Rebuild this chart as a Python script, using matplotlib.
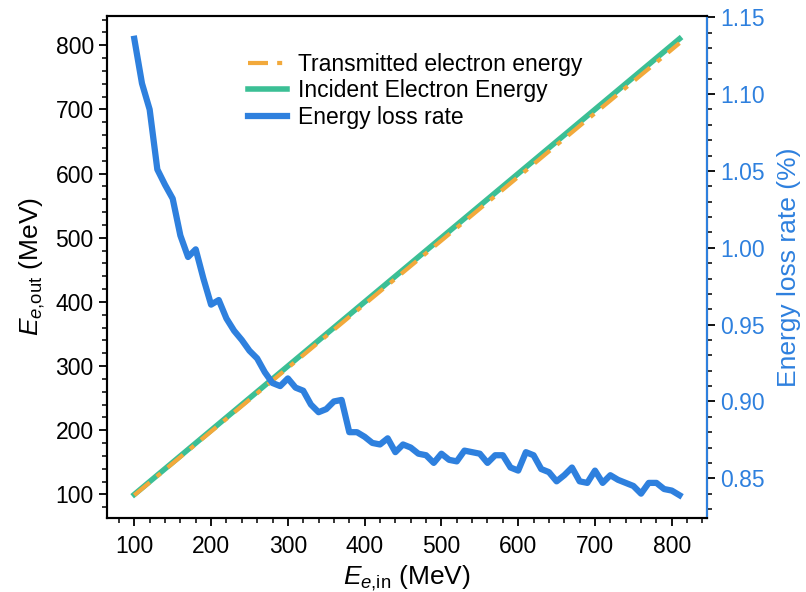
import numpy as np
import matplotlib
matplotlib.use('Agg')
import matplotlib.pyplot as plt
from matplotlib.ticker import MultipleLocator

# incident electron energy (MeV)
e_in = np.arange(100, 811, 10)

# energy loss rate (%)
loss_rate = [
    1.136, 1.107, 1.090, 1.051, 1.041, 1.032, 1.008, 0.994, 0.999, 0.980,
    0.963, 0.966, 0.954, 0.946, 0.940, 0.933, 0.928, 0.919, 0.912, 0.910,
    0.915, 0.909, 0.907, 0.898, 0.893, 0.895, 0.900, 0.901, 0.880, 0.880,
    0.877, 0.873, 0.872, 0.876, 0.867, 0.872, 0.870, 0.866, 0.865, 0.860,
    0.866, 0.862, 0.861, 0.868, 0.867, 0.866, 0.860, 0.865, 0.865, 0.857,
    0.855, 0.867, 0.865, 0.856, 0.854, 0.848, 0.852, 0.857, 0.848, 0.847,
    0.855, 0.847, 0.852, 0.849, 0.847, 0.845, 0.840, 0.847, 0.847, 0.843,
    0.842, 0.839,
]
loss_rate = np.array(loss_rate)
e_out = e_in * (1 - loss_rate / 100)

orange = '#F2A93B'
green = '#3BBF95'
blue = '#2E80DE'

plt.rcParams['font.family'] = ['Liberation Sans', 'DejaVu Sans']
plt.rcParams['font.size'] = 16.5
plt.rcParams['mathtext.fontset'] = 'custom'
plt.rcParams['mathtext.rm'] = 'Liberation Sans'
plt.rcParams['mathtext.it'] = 'Liberation Sans:italic'

fig = plt.figure(figsize=(8.06, 5.92), dpi=100)
ax = fig.add_axes([0.1328, 0.125, 0.744, 0.848])
ax2 = ax.twinx()

l1, = ax.plot(e_in, e_out, color=orange, lw=3, dashes=(4.8, 2.2, 1.2, 2.2),
              label='Transmitted electron energy', zorder=3)
l2, = ax.plot(e_in, e_in, color=green, lw=4, label='Incident Electron Energy', zorder=2)
l3, = ax2.plot(e_in, loss_rate, color=blue, lw=4.5, label='Energy loss rate')

ax.set_xlabel(r'$E_{e{,}\mathrm{in}}$ (MeV)', fontsize=19, labelpad=4)
ax.set_ylabel(r'$E_{e{,}\mathrm{out}}$ (MeV)', fontsize=19, labelpad=6)
ax2.set_ylabel('Energy loss rate (%)', color=blue, fontsize=19, labelpad=9)

ax.xaxis.set_major_locator(MultipleLocator(100))
ax.xaxis.set_minor_locator(MultipleLocator(20))
ax.yaxis.set_major_locator(MultipleLocator(100))
ax.yaxis.set_minor_locator(MultipleLocator(20))
ax2.yaxis.set_major_locator(MultipleLocator(0.05))
ax2.yaxis.set_minor_locator(MultipleLocator(0.01))
ax2.yaxis.set_major_formatter(plt.FormatStrFormatter('%.2f'))

for a in (ax, ax2):
    a.tick_params(which='major', length=6, width=1.3, direction='out', labelsize=16.5)
    a.tick_params(which='minor', length=3.5, width=1.1, direction='out')
    for s in a.spines.values():
        s.set_linewidth(1.5)
ax.tick_params(axis='x', which='major', pad=6)
ax2.tick_params(axis='y', which='both', labelcolor=blue)
ax2.spines['right'].set_color(blue)

ax2.legend(handles=[l1, l2, l3], loc='upper left', bbox_to_anchor=(0.293, 0.93),
           bbox_transform=fig.transFigure, frameon=False, borderpad=0,
           labelspacing=0.15, handlelength=1.7, handletextpad=0.5)

fig.savefig('out.png', dpi=100)
